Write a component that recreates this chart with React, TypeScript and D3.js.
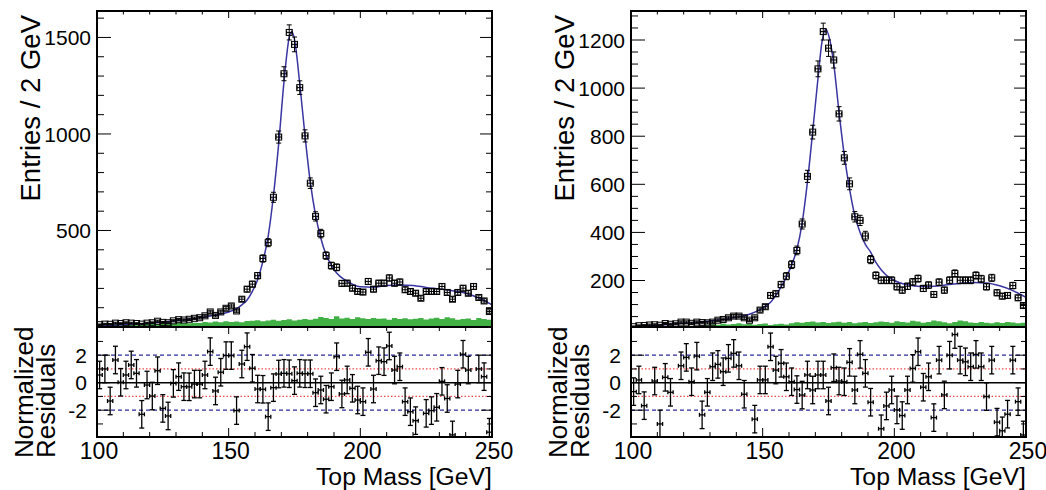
import React from "react";
import * as d3 from "d3";

// Bin centres of the 2 GeV top-mass histogram (100–250 GeV).
const massBins: number[] = d3.range(101, 250, 2);

// Left fit: entries per bin.
const entriesL = [
  12, 15, 14, 20, 18, 22, 20, 18, 15, 20,
  22, 30, 24, 22, 32, 38, 36, 40, 45, 48,
  58, 78, 60, 78, 97, 109, 83, 144, 196, 222,
  266, 355, 437, 672, 984, 1312, 1526, 1464, 1240, 990,
  745, 573, 484, 370, 318, 309, 226, 227, 201, 184,
  181, 236, 196, 227, 227, 254, 227, 233, 193, 184,
  175, 149, 184, 184, 184, 210, 179, 144, 179, 201,
  175, 210, 153, 135, 80,
];
// Left fit: background component (green).
const bkgL = [
  14, 16, 13, 17, 15, 16, 14, 18, 16, 17,
  19, 16, 20, 18, 17, 21, 19, 20, 22, 21,
  26, 23, 28, 24, 30, 26, 29, 25, 31, 32,
  35, 30, 34, 37, 33, 36, 40, 34, 37, 41,
  38, 43, 52, 46, 41, 56, 44, 48, 42, 50,
  45, 41, 47, 43, 44, 38, 46, 42, 45, 40,
  43, 46, 39, 44, 48, 41, 50, 45, 38, 42,
  44, 36, 46, 41, 38,
];
// Left fit: normalized residuals (null = outside the plotted range).
const pullL: (number | null)[] = [
  0.56, 1.0, -1.33, 1.65, 0.03, 0.56, 1.29, 0.68, -2.3, -0.17,
  -0.97, 0.87, -1.87, -2.42, -0.05, 0.44, -0.29, -0.3, -0.1, -0.1,
  0.56, 2.26, -0.6, 0.76, 1.97, 1.97, -2.03, 1.36, 2.62, 1.05,
  -0.46, -0.48, -2.47, -0.36, 0.63, 0.68, 0.65, 0.15, 0.68, 0.65,
  0.65, -0.73, -0.53, -1.2, -0.29, 1.89, -0.82, 0.2, -0.41, -1.26,
  -1.38, 2.21, -0.46, 1.6, 1.53, 2.67, 0.92, 1.16, -1.38, -2.11,
  -2.76, null, -2.23, -2.03, -1.79, 0.1, -1.15, -3.8, -0.1, 2.07,
  0.92, null, 1.0, 0.44, -3.6,
];
// Left fit curve, sampled along the mass axis.
const fitMassL = [100, 110, 120, 130, 140, 145, 150, 153, 155, 157, 159, 161, 163, 165, 167, 169, 171, 173, 174, 175, 177, 179, 181, 183, 185, 187, 189, 191, 194, 197, 200, 205, 210, 215, 220, 225, 230, 235, 240, 245, 250];
const fitValL = [5, 12, 20, 32, 50, 62, 78, 95, 115, 140, 185, 245, 340, 470, 680, 950, 1270, 1500, 1530, 1490, 1260, 990, 750, 580, 460, 375, 320, 280, 245, 222, 208, 206, 215, 218, 215, 205, 197, 188, 175, 150, 115];

// Right fit: entries per bin.
const entriesR = [
  8, 12, 13, 15, 16, 14, 21, 18, 20, 27,
  27, 22, 27, 25, 24, 27, 35, 38, 45, 52,
  52, 45, 35, 45, 77, 91, 138, 145, 183, 218,
  266, 325, 435, 633, 817, 1080, 1235, 1166, 1117, 893,
  710, 602, 465, 450, 385, 287, 221, 201, 201, 201,
  174, 160, 176, 194, 208, 167, 181, 142, 193, 160,
  201, 229, 201, 201, 201, 221, 207, 174, 211, 149,
  135, 138, 179, 128, 96,
];
const bkgR = [
  3, 2, 4, 3, 5, 4, 6, 5, 7, 6,
  5, 8, 7, 8, 14, 18, 16, 20, 17, 19,
  22, 18, 20, 16, 19, 21, 15, 18, 20, 17,
  22, 26, 24, 28, 30, 25, 27, 23, 26, 29,
  24, 27, 22, 25, 28, 23, 26, 30, 27, 24,
  31, 28, 25, 33, 30, 24, 27, 34, 31, 26,
  22, 28, 34, 31, 25, 23, 27, 24, 22, 26,
  23, 28, 25, 22, 24,
];
const pullR: (number | null)[] = [
  -0.65, 0.2, -1.67, null, 0.12, -3.0, 0.39, -0.7, null, 1.23,
  1.84, 0.07, 1.93, -2.34, -0.7, 1.16, 1.33, 0.8, 1.77, 2.13,
  1.23, -0.84, null, -2.65, 0.2, 0.2, 2.61, 0.92, 1.41, 0.43,
  0.07, -0.5, -0.9, 0.56, -0.53, 0.56, 0.56, -1.33, 1.09, 0.12,
  0.07, 1.48, -0.53, 2.06, 0.68, -1.42, null, -3.35, -1.69, -0.53,
  -1.98, -2.39, -0.53, 1.04, 2.25, -0.33, 0.43, -2.54, 1.64, -0.89,
  2.0, 3.5, 1.64, 1.52, 1.16, 2.06, 1.16, -1.01, 1.64, -2.87,
  -3.5, -2.29, 1.64, -1.38, -3.8,
];
const fitMassR = [100, 110, 120, 130, 135, 140, 145, 150, 153, 156, 159, 161, 163, 165, 167, 169, 171, 172.5, 174, 175.5, 177, 179, 181, 183, 185, 187, 189, 191, 193, 195, 197, 200, 205, 210, 215, 220, 225, 230, 235, 240, 245, 250];
const fitValR = [8, 14, 22, 32, 38, 47, 60, 85, 110, 155, 215, 265, 330, 440, 610, 820, 1040, 1190, 1245, 1200, 1100, 900, 720, 580, 470, 400, 350, 318, 275, 245, 222, 200, 182, 175, 176, 182, 188, 192, 190, 178, 158, 130];

const xTickLabels = [100, 150, 200, 250];
const pullTickLabels = [2, 0, -2];

const FONT = "'Liberation Sans', Arial, Helvetica, sans-serif";
const FRAME_TOP = 11;
const SPLIT = 327;
const FRAME_BOTTOM = 437;
const FRAME_W = 395;

type PanelProps = {
  id: string;
  left: number;
  entries: number[];
  bkg: number[];
  pull: (number | null)[];
  fitM: number[];
  fitV: number[];
  yDomain: [number, number];
  yMajor: number[];
  yMinorStep: number;
};

function Panel(p: PanelProps) {
  const x = d3.scaleLinear().domain([100, 250]).range([p.left, p.left + FRAME_W]);
  const y = d3.scaleLinear().domain(p.yDomain).range([SPLIT, FRAME_TOP]);
  const yr = d3.scaleLinear().domain([-3.95, 4.05]).range([FRAME_BOTTOM, SPLIT]);
  const right = p.left + FRAME_W;
  const yMin = p.yDomain[0];

  // background histogram as a step area
  const steps: [number, number][] = p.bkg.map((v, i) => [massBins[i] - 1, v] as [number, number]);
  steps.push([250, p.bkg[p.bkg.length - 1]]);
  const bkgArea = d3
    .area<[number, number]>()
    .x((d) => x(d[0]))
    .y0(y(yMin))
    .y1((d) => y(Math.max(d[1], yMin)))
    .curve(d3.curveStepAfter)(steps);

  const fitPath = d3
    .line<number>()
    .x((_, i) => x(p.fitM[i]))
    .y((v) => y(v))
    .curve(d3.curveMonotoneX)(p.fitV);

  const xMinor = d3.range(110, 250, 10).filter((v) => v % 50 !== 0);
  const yMinor = d3.range(p.yMinorStep, p.yDomain[1], p.yMinorStep).filter((v) => v > yMin && !p.yMajor.includes(v));

  const tick = "#000";
  const clipTop = `clipTop-${p.id}`;
  const clipRes = `clipRes-${p.id}`;

  return (
    <g>
      <defs>
        <clipPath id={clipTop}>
          <rect x={p.left} y={FRAME_TOP} width={FRAME_W} height={SPLIT - FRAME_TOP} />
        </clipPath>
        <clipPath id={clipRes}>
          <rect x={p.left} y={SPLIT} width={FRAME_W} height={FRAME_BOTTOM - SPLIT} />
        </clipPath>
      </defs>

      {/* upper pad: data, fit, background */}
      <g clipPath={`url(#${clipTop})`}>
        <path d={bkgArea ?? ""} fill="#41b146" stroke="none" />
        <path d={fitPath ?? ""} fill="none" stroke="#3a35a0" strokeWidth={1.5} />
        {p.entries.map((v, i) => {
          const m = massBins[i];
          const err = Math.sqrt(v);
          const cx = x(m);
          const cy = y(v);
          const y1 = y(v + err);
          const y2 = y(v - err);
          const xa = x(m - 1);
          const xb = x(m + 1);
          return (
            <g key={i} stroke="#000" strokeWidth={1} fill="none">
              <line x1={cx} x2={cx} y1={y1} y2={y2} />
              <line x1={cx - 2.5} x2={cx + 2.5} y1={y1} y2={y1} />
              <line x1={cx - 2.5} x2={cx + 2.5} y1={y2} y2={y2} />
              <line x1={xa} x2={xb} y1={cy} y2={cy} />
              <line x1={xa} x2={xa} y1={cy - 2} y2={cy + 2} />
              <line x1={xb} x2={xb} y1={cy - 2} y2={cy + 2} />
              <rect x={cx - 3} y={cy - 3} width={6} height={6} />
            </g>
          );
        })}
      </g>

      {/* upper pad frame and ticks */}
      <rect x={p.left} y={FRAME_TOP} width={FRAME_W} height={SPLIT - FRAME_TOP} fill="none" stroke="#000" strokeWidth={2} />
      {xMinor.map((v) => (
        <line key={`tm${v}`} x1={x(v)} x2={x(v)} y1={FRAME_TOP} y2={FRAME_TOP + 3.5} stroke={tick} strokeWidth={1} />
      ))}
      {xTickLabels.map((v) => (
        <line key={`tM${v}`} x1={x(v)} x2={x(v)} y1={FRAME_TOP} y2={FRAME_TOP + 7} stroke={tick} strokeWidth={1} />
      ))}
      {yMinor.map((v) => (
        <g key={`ym${v}`} stroke={tick} strokeWidth={1}>
          <line x1={p.left} x2={p.left + 7} y1={y(v)} y2={y(v)} />
          <line x1={right} x2={right - 6} y1={y(v)} y2={y(v)} />
        </g>
      ))}
      {p.yMajor.map((v) => (
        <g key={`yM${v}`}>
          <line x1={p.left} x2={p.left + 14} y1={y(v)} y2={y(v)} stroke={tick} strokeWidth={1} />
          <line x1={right} x2={right - 12} y1={y(v)} y2={y(v)} stroke={tick} strokeWidth={1} />
          <text x={p.left - 6} y={y(v)} dy="0.36em" textAnchor="end" fontFamily={FONT} fontSize={21}>
            {v}
          </text>
        </g>
      ))}
      <text
        transform={`translate(${p.left - 57},${15}) rotate(-90)`}
        textAnchor="end"
        fontFamily={FONT}
        fontSize={27.5}
      >
        Entries / 2 GeV
      </text>

      {/* lower pad: normalized residuals */}
      <line x1={p.left} x2={right} y1={yr(1)} y2={yr(1)} stroke="#f04a4a" strokeWidth={1.2} strokeDasharray="1.5 2" />
      <line x1={p.left} x2={right} y1={yr(-1)} y2={yr(-1)} stroke="#f04a4a" strokeWidth={1.2} strokeDasharray="1.5 2" />
      <line x1={p.left} x2={right} y1={yr(2)} y2={yr(2)} stroke="#2b2ba0" strokeWidth={1.3} strokeDasharray="4 3" />
      <line x1={p.left} x2={right} y1={yr(-2)} y2={yr(-2)} stroke="#2b2ba0" strokeWidth={1.3} strokeDasharray="4 3" />
      <line x1={p.left} x2={right} y1={yr(0)} y2={yr(0)} stroke="#000" strokeWidth={1.5} />
      <g clipPath={`url(#${clipRes})`}>
        {p.pull.map((v, i) => {
          if (v === null) return null;
          const m = massBins[i];
          const cx = x(m);
          const cy = yr(v);
          const y1 = yr(v + 1);
          const y2 = yr(v - 1);
          const xa = x(m - 1);
          const xb = x(m + 1);
          return (
            <g key={i} stroke="#000" strokeWidth={1.3} fill="none">
              <line x1={cx} x2={cx} y1={y1} y2={y2} />
              <line x1={cx - 2.5} x2={cx + 2.5} y1={y1} y2={y1} />
              <line x1={cx - 2.5} x2={cx + 2.5} y1={y2} y2={y2} />
              <line x1={xa} x2={xb} y1={cy} y2={cy} />
              <line x1={xa} x2={xa} y1={cy - 2} y2={cy + 2} />
              <line x1={xb} x2={xb} y1={cy - 2} y2={cy + 2} />
            </g>
          );
        })}
      </g>
      <rect x={p.left} y={SPLIT} width={FRAME_W} height={FRAME_BOTTOM - SPLIT} fill="none" stroke="#000" strokeWidth={2} />
      {xMinor.map((v) => (
        <g key={`bm${v}`} stroke={tick} strokeWidth={1}>
          <line x1={x(v)} x2={x(v)} y1={SPLIT} y2={SPLIT + 4} />
          <line x1={x(v)} x2={x(v)} y1={FRAME_BOTTOM} y2={FRAME_BOTTOM - 5} />
        </g>
      ))}
      {xTickLabels.map((v) => (
        <g key={`bM${v}`}>
          <line x1={x(v)} x2={x(v)} y1={SPLIT} y2={SPLIT + 7} stroke={tick} strokeWidth={1} />
          <line x1={x(v)} x2={x(v)} y1={FRAME_BOTTOM} y2={FRAME_BOTTOM - 9} stroke={tick} strokeWidth={1} />
          <text x={x(v) + 2} y={459} textAnchor="middle" fontFamily={FONT} fontSize={23}>
            {v}
          </text>
        </g>
      ))}
      {[-3, -1, 1, 3].map((v) => (
        <g key={`rm${v}`} stroke={tick} strokeWidth={1}>
          <line x1={p.left} x2={p.left + 6} y1={yr(v)} y2={yr(v)} />
          <line x1={right} x2={right - 5} y1={yr(v)} y2={yr(v)} />
        </g>
      ))}
      {pullTickLabels.map((v) => (
        <g key={`rM${v}`}>
          <line x1={p.left} x2={p.left + 13} y1={yr(v)} y2={yr(v)} stroke={tick} strokeWidth={1} />
          <line x1={right} x2={right - 11} y1={yr(v)} y2={yr(v)} stroke={tick} strokeWidth={1} />
          <text x={p.left - 10} y={yr(v)} dy="0.36em" textAnchor="end" fontFamily={FONT} fontSize={21}>
            {v}
          </text>
        </g>
      ))}
      <text transform={`translate(${p.left - 64},${458}) rotate(-90)`} fontFamily={FONT} fontSize={26}>
        Normalized
      </text>
      <text transform={`translate(${p.left - 42},${458}) rotate(-90)`} fontFamily={FONT} fontSize={26}>
        Residuals
      </text>
      <text
        x={right}
        y={484.5}
        textAnchor="end"
        fontFamily={FONT}
        fontSize={23}
        textLength={176}
        lengthAdjust="spacingAndGlyphs"
      >
        Top Mass [GeV]
      </text>
    </g>
  );
}

export default function App() {
  return (
    <svg
      width={1046}
      height={490}
      viewBox="0 0 1046 490"
      style={{ position: "absolute", left: 0, top: 0, background: "#fff" }}
    >
      <rect width={1046} height={490} fill="#fff" />
      <Panel
        id="l"
        left={97}
        entries={entriesL}
        bkg={bkgL}
        pull={pullL}
        fitM={fitMassL}
        fitV={fitValL}
        yDomain={[0, 1637]}
        yMajor={[500, 1000, 1500]}
        yMinorStep={100}
      />
      <Panel
        id="r"
        left={631}
        entries={entriesR}
        bkg={bkgR}
        pull={pullR}
        fitM={fitMassR}
        fitV={fitValR}
        yDomain={[6.7, 1320.6]}
        yMajor={[200, 400, 600, 800, 1000, 1200]}
        yMinorStep={50}
      />
    </svg>
  );
}
